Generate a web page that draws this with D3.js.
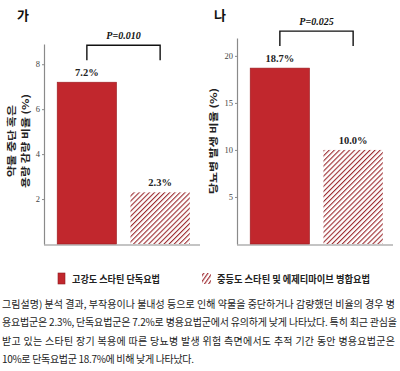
<!DOCTYPE html>
<html>
<head>
<meta charset="utf-8">
<script src="https://cdn.jsdelivr.net/npm/d3@7"></script>
<style>
  body { margin: 0; background: #fff; }
  svg { display: block; }
</style>
</head>
<body>
<div id="chart"></div>
<script>
// data
const groups = ["고강도 스타틴 단독요법", "중등도 스타틴 및 에제티마이브 병합요법"];
const stopRate = [7.2, 2.3];
const diabetesRate = [18.7, 10.0];
const stopTicks = [2, 4, 6, 8];
const diabetesTicks = [5, 10, 15, 20];
const pValues = ["P=0.010", "P=0.025"];
const panelTitles = ["가", "나"];
const captionLines = [
  "그림설명) 분석 결과, 부작용이나 불내성 등으로 인해 약물을 중단하거나 감량했던 비율의 경우 병",
  "용요법군은 2.3%, 단독요법군은 7.2%로 병용요법군에서 유의하게 낮게 나타났다. 특히 최근 관심을",
  "받고 있는 스타틴 장기 복용에 따른 당뇨병 발생 위험 측면에서도 추적 기간 동안 병용요법군은",
  "10%로 단독요법군 18.7%에 비해 낮게 나타났다."
];

const width = 400, height = 371;
const red = "#c1272d";

const svg = d3.select("#chart")
  .append("svg")
    .attr("width", width)
    .attr("height", height);

svg.append("rect").attr("width", width).attr("height", height).attr("fill", "#fff");

// hatch patterns
const defs = svg.append("defs");
defs.append("pattern")
    .attr("id", "hatch")
    .attr("patternUnits", "userSpaceOnUse")
    .attr("width", 3.6).attr("height", 3.6)
    .attr("patternTransform", "rotate(45)")
  .call(p => {
    p.append("rect").attr("width", 3.6).attr("height", 3.6).attr("fill", "#fff");
    p.append("line").attr("x1", 0).attr("y1", 0).attr("x2", 0).attr("y2", 3.6)
      .attr("stroke", "#9b2b2f").attr("stroke-width", 2.2);
  });
defs.append("pattern")
    .attr("id", "hatchLegend")
    .attr("patternUnits", "userSpaceOnUse")
    .attr("width", 3.4).attr("height", 3.4)
    .attr("patternTransform", "rotate(35)")
  .call(p => {
    p.append("rect").attr("width", 3.4).attr("height", 3.4).attr("fill", "#fff");
    p.append("line").attr("x1", 0).attr("y1", 0).attr("x2", 0).attr("y2", 3.4)
      .attr("stroke", "#a3343a").attr("stroke-width", 2.4);
  });

const panels = [
  {values: stopRate, ticks: stopTicks, max: 8.9, top: 44, xRange: [44, 203], axisEnd: 200,
   title: panelTitles[0], titleX: 17, p: pValues[0],
   label: ["약물 중단 혹은", "용량 감량 비율 (%)"], labelX: [11, 25], labelLen: [72, 94]},
  {values: diabetesRate, ticks: diabetesTicks, max: 21.9, top: 38, xRange: [237, 396], axisEnd: 393,
   title: panelTitles[1], titleX: 214, p: pValues[1],
   label: ["당뇨병 발생 비율 (%)"], labelX: [213], labelLen: [106]}
];

const base = 244;

panels.forEach(function(pn) {
  const g = svg.append("g");

  const x = d3.scaleBand()
    .domain(groups)
    .range(pn.xRange)
    .paddingInner(0.19)
    .paddingOuter(0.18);

  const y = d3.scaleLinear()
    .domain([0, pn.max])
    .range([base, pn.top]);

  // Y axis
  const ax = g.append("g")
    .attr("transform", `translate(${pn.xRange[0]},0)`)
    .call(d3.axisLeft(y).tickValues(pn.ticks).tickSize(2).tickSizeOuter(0).tickPadding(2));
  ax.select(".domain").attr("stroke", "#8a8a8a").attr("stroke-width", 1.2);
  ax.selectAll(".tick line").attr("stroke", "#8a8a8a");
  ax.selectAll(".tick text")
    .attr("font-family", "Liberation Serif, serif")
    .attr("font-size", 8.5)
    .attr("fill", "#444");

  // X baseline
  g.append("line")
    .attr("x1", pn.xRange[0]).attr("x2", pn.axisEnd)
    .attr("y1", y(0) + 1).attr("y2", y(0) + 1)
    .attr("stroke", "#8a8a8a").attr("stroke-width", 1.2);

  // Bars
  g.selectAll("rect.bar")
    .data(pn.values)
    .enter()
    .append("rect")
      .attr("class", "bar")
      .attr("x", (d, i) => x(groups[i]))
      .attr("y", d => y(d))
      .attr("width", x.bandwidth())
      .attr("height", d => y(0) - y(d))
      .attr("fill", (d, i) => i === 0 ? red : "url(#hatch)")
      .attr("stroke", (d, i) => i === 0 ? "#9a1d22" : "none")
      .attr("stroke-width", 0.6);

  // value labels
  g.selectAll("text.val")
    .data(pn.values)
    .enter()
    .append("text")
      .attr("class", "val")
      .attr("x", (d, i) => x(groups[i]) + x.bandwidth() / 2)
      .attr("y", d => y(d) - 6)
      .attr("text-anchor", "middle")
      .attr("font-family", "Liberation Serif, serif")
      .attr("font-weight", "bold")
      .attr("font-size", 10.5)
      .attr("fill", "#222")
      .text(d => d.toFixed(1) + "%");

  // significance bracket
  const c0 = x(groups[0]) + x.bandwidth() / 2;
  const c1 = x(groups[1]) + x.bandwidth() / 2;
  const bBottom = y(d3.max(pn.values)) - 22;
  const bTop = bBottom - 15;
  g.append("path")
    .attr("d", `M${c0},${bBottom}V${bTop}H${c1}V${bBottom}`)
    .attr("fill", "none")
    .attr("stroke", "#111")
    .attr("stroke-width", 1.4);
  g.append("text")
    .attr("x", (c0 + c1) / 2)
    .attr("y", bTop - 6)
    .attr("text-anchor", "middle")
    .attr("font-family", "Liberation Serif, serif")
    .attr("font-style", "italic")
    .attr("font-weight", "bold")
    .attr("font-size", 10)
    .attr("fill", "#111")
    .text(pn.p);

  // panel title
  g.append("text")
    .attr("x", pn.titleX)
    .attr("y", 20)
    .attr("font-family", "Noto Sans CJK KR, sans-serif")
    .attr("font-weight", "bold")
    .attr("font-size", 13)
    .attr("fill", "#111")
    .text(pn.title);

  // y label
  pn.label.forEach(function(t, k) {
    g.append("text")
      .attr("transform", `translate(${pn.labelX[k]},141) rotate(-90)`)
      .attr("text-anchor", "middle")
      .attr("dominant-baseline", "central")
      .attr("font-family", "Noto Sans CJK KR, sans-serif")
      .attr("font-weight", "bold")
      .attr("font-size", 9.5)
      .attr("fill", "#222")
      .attr("textLength", pn.labelLen[k])
      .attr("lengthAdjust", "spacingAndGlyphs")
      .text(t);
  });
});

// Legend
const legend = svg.append("g");
const legendX = [58, 202];
const legendTextLen = [88, 153];
groups.forEach(function(name, i) {
  legend.append("rect")
    .attr("x", legendX[i]).attr("y", 273)
    .attr("width", i === 0 ? 7 : 9).attr("height", 11)
    .attr("fill", i === 0 ? red : "url(#hatchLegend)")
    .attr("stroke", i === 0 ? "#8f1b20" : "none")
    .attr("stroke-width", 0.6);
  legend.append("text")
    .attr("x", legendX[i] + (i === 0 ? 14 : 15))
    .attr("y", 283)
    .attr("font-family", "Noto Sans CJK KR, sans-serif")
    .attr("font-weight", "bold")
    .attr("font-size", 10)
    .attr("fill", "#222")
    .attr("textLength", legendTextLen[i])
    .attr("lengthAdjust", "spacingAndGlyphs")
    .text(name);
});

// Caption
const captionLen = [393, 395, 393, 192];
svg.append("g")
  .selectAll("text")
  .data(captionLines)
  .enter()
  .append("text")
    .attr("x", 2)
    .attr("y", (d, i) => 308 + i * 18.3)
    .attr("font-family", "Noto Sans CJK KR, sans-serif")
    .attr("font-size", 10)
    .attr("fill", "#222")
    .attr("textLength", (d, i) => captionLen[i])
    .attr("lengthAdjust", "spacing")
    .text(d => d);
</script>
</body>
</html>
